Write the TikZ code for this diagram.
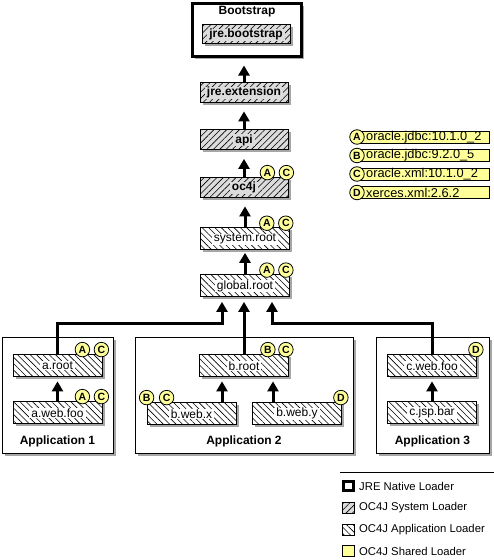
\documentclass[tikz,border=0pt]{standalone}
\usepackage{fontspec}
\setmainfont{Liberation Sans}
\usetikzlibrary{patterns.meta,arrows.meta}
\definecolor{sysgray}{HTML}{DCDCDC}
\definecolor{shy}{HTML}{FFFF99}
\begin{document}
\begin{tikzpicture}[x=1pt,y=-1pt,
  font=\fontsize{12}{14}\selectfont,
  shadowed/.style={preaction={fill=black!35,draw=none,transform canvas={xshift=2.5pt,yshift=-2.5pt}}},
  sysbox/.style={shadowed,draw,line width=0.8pt,minimum width=88pt,minimum height=20pt,inner sep=0pt,
    preaction={fill=sysgray},pattern={Lines[angle=45,distance=4.5pt,line width=0.6pt]}},
  appbox/.style={shadowed,draw,line width=0.8pt,minimum width=89pt,minimum height=22pt,inner sep=0pt,
    preaction={fill=white},pattern={Lines[angle=-45,distance=4.5pt,line width=0.6pt]}},
  sysl/.style={fill=sysgray,inner xsep=2pt,inner ysep=0.5pt,yshift=-0.8pt,font=\fontsize{12}{14}\selectfont\bfseries},
  appl/.style={fill=white,inner xsep=2pt,inner ysep=0.5pt,yshift=-0.8pt},
  group/.style={shadowed,draw,fill=white,line width=1pt,inner sep=0pt},
  title/.style={font=\fontsize{12}{14}\selectfont\bfseries,inner sep=1pt},
  badge/.style={circle,draw,fill=shy,line width=0.8pt,inner sep=0pt,minimum size=14.5pt,
    font=\fontsize{10.5}{11}\selectfont\bfseries},
  conn/.style={line width=3pt,-{Triangle[width=11pt,length=10pt]}},
  shbox/.style={draw,fill=shy,line width=0.8pt,minimum width=132pt,minimum height=12pt,inner sep=0pt,anchor=west},
  lgsq/.style={minimum width=12pt,minimum height=11pt,inner sep=0pt},
  shtxt/.style={anchor=west,inner sep=0pt,font=\fontsize{12.8}{14}\selectfont},
  kytxt/.style={anchor=west,inner sep=0pt,font=\fontsize{11.3}{14}\selectfont}
]
\useasboundingbox (0,0) rectangle (494,560);

% Bootstrap group
\node[group,line width=3pt,minimum width=109pt,minimum height=53pt] (boot) at (247,29.5) {};
\node[title] (boot-t) at (247,12) {Bootstrap};
\node[sysbox,minimum height=19pt] (jreb) at (246,34) {};
\node[sysl] (jreb-l) at (jreb) {jre.bootstrap};

% system loaders
\node[sysbox] (ext) at (244,92) {};
\node[sysl] (ext-l) at (ext) {jre.extension};
\node[sysbox] (api) at (244,139.5) {};
\node[sysl] (api-l) at (api) {api};
\node[sysbox] (oc4j) at (244,187) {};
\node[sysl] (oc4j-l) at (oc4j) {oc4j};

% app loaders (global)
\node[appbox] (sysr) at (245,238.5) {};
\node[appl] (sysr-l) at (sysr) {system.root};
\node[appbox] (groot) at (245,285.5) {};
\node[appl] (groot-l) at (groot) {global.root};

% application groups
\node[group,minimum width=111pt,minimum height=116pt] (app1) at (57.5,395) {};
\node[group,minimum width=218pt,minimum height=116pt] (app2) at (244,395) {};
\node[group,minimum width=113pt,minimum height=116pt] (app3) at (432.5,395) {};
\node[title] (app1-t) at (57.5,441) {Application 1};
\node[title] (app2-t) at (244,441) {Application 2};
\node[title] (app3-t) at (432.5,441) {Application 3};

\node[appbox] (aroot) at (57.5,365) {};
\node[appl] (aroot-l) at (aroot) {a.root};
\node[appbox] (aweb) at (57.5,412) {};
\node[appl] (aweb-l) at (aweb) {a.web.foo};
\node[appbox] (broot) at (244,365) {};
\node[appl] (broot-l) at (broot) {b.root};
\node[appbox] (bx) at (191.5,413) {};
\node[appl] (bx-l) at (bx) {b.web.x};
\node[appbox] (by) at (297,413) {};
\node[appl] (by-l) at (by) {b.web.y};
\node[appbox] (cweb) at (432,365) {};
\node[appl] (cweb-l) at (cweb) {c.web.foo};
\node[appbox] (cjsp) at (432,412) {};
\node[appl] (cjsp-l) at (cjsp) {c.jsp.bar};

% connectors
\draw[conn,shorten >=8pt] (ext.north) -- (ext.north |- boot.south);
\draw[conn,shorten >=9pt] (api.north) -- (ext.south);
\draw[conn,shorten >=9pt] (oc4j.north) -- (api.south);
\draw[conn,shorten >=9pt] (sysr.north) -- (sysr.north |- oc4j.south);
\draw[conn,shorten >=3pt] (groot.north) -- (sysr.south);
\coordinate (bus) at (0,323);
\coordinate (gL) at ([xshift=-23pt]groot.south);
\coordinate (gR) at ([xshift=27pt]groot.south);
\draw[conn,shorten >=5pt] (aroot.north) |- (gL |- bus) -- (gL);
\draw[conn,shorten >=5pt] (broot.north) -- (broot.north |- groot.south);
\draw[conn,shorten >=5pt] (cweb.north) |- (gR |- bus) -- (gR);
\draw[conn,shorten >=5pt] (aweb.north) -- (aroot.south);
\coordinate (bxt) at ([xshift=30.5pt]bx.north);
\coordinate (byt) at ([xshift=-24pt]by.north);
\draw[conn,shorten >=5pt] (bxt) -- (bxt |- broot.south);
\draw[conn,shorten >=5pt] (byt) -- (byt |- broot.south);
\draw[conn,shorten >=5pt] (cjsp.north) -- (cweb.south);

% badges
\node[badge] (oc4j-a) at ([xshift=-21pt,yshift=4pt]oc4j.north east) {A};
\node[badge] (oc4j-c) at ([xshift=-2pt,yshift=4pt]oc4j.north east) {C};
\node[badge] (sysr-a) at ([xshift=-23pt,yshift=4pt]sysr.north east) {A};
\node[badge] (sysr-c) at ([xshift=-4pt,yshift=4pt]sysr.north east) {C};
\node[badge] (groot-a) at ([xshift=-23pt,yshift=4pt]groot.north east) {A};
\node[badge] (groot-c) at ([xshift=-4pt,yshift=4pt]groot.north east) {C};
\node[badge] (aroot-a) at ([xshift=-20pt,yshift=4pt]aroot.north east) {A};
\node[badge] (aroot-c) at ([xshift=-1pt,yshift=4pt]aroot.north east) {C};
\node[badge] (aweb-a) at ([xshift=-20pt,yshift=4pt]aweb.north east) {A};
\node[badge] (aweb-c) at ([xshift=-1pt,yshift=4pt]aweb.north east) {C};
\node[badge] (broot-b) at ([xshift=-21pt,yshift=4pt]broot.north east) {B};
\node[badge] (broot-c) at ([xshift=-3pt,yshift=4pt]broot.north east) {C};
\node[badge] (bx-b) at ([xshift=0pt,yshift=4pt]bx.north west) {B};
\node[badge] (bx-c) at ([xshift=20pt,yshift=4pt]bx.north west) {C};
\node[badge] (by-d) at ([xshift=-1pt,yshift=4pt]by.north east) {D};
\node[badge] (cweb-d) at ([xshift=-1pt,yshift=4pt]cweb.north east) {D};

% shared libraries legend
\node[shbox] (la) at (357,137) {};
\node[badge] (la-c) at (357,137) {A};
\node[shtxt] (la-t) at (366,137) {oracle.jdbc:10.1.0\_2};
\node[shbox] (lb) at (357,155.5) {};
\node[badge] (lb-c) at (357,155.5) {B};
\node[shtxt] (lb-t) at (366,155.5) {oracle.jdbc:9.2.0\_5};
\node[shbox] (lc) at (357,174) {};
\node[badge] (lc-c) at (357,174) {C};
\node[shtxt] (lc-t) at (366,174) {oracle.xml:10.1.0\_2};
\node[shbox] (ld) at (357,192.5) {};
\node[badge] (ld-c) at (357,192.5) {D};
\node[shtxt] (ld-t) at (366,192.5) {xerces.xml:2.6.2};

% loader legend
\draw[line width=0.8pt] (340,472) -- (494,472);
\node[lgsq,draw,fill=white,line width=2.2pt,minimum width=10pt,minimum height=9pt] (k1) at (348.5,486) {};
\node[kytxt] (k1-t) at (359,486) {JRE Native Loader};
\node[lgsq,draw,line width=0.8pt,preaction={fill=sysgray},pattern={Lines[angle=45,distance=4.5pt,line width=0.6pt]}] (k2) at (348.5,508) {};
\node[kytxt] (k2-t) at (359,508) {OC4J System Loader};
\node[lgsq,draw,line width=0.8pt,preaction={fill=white},pattern={Lines[angle=-45,distance=4.5pt,line width=0.6pt]}] (k3) at (348.5,530) {};
\node[kytxt] (k3-t) at (359,530) {OC4J Application Loader};
\node[lgsq,draw,fill=shy,line width=0.8pt] (k4) at (348.5,551) {};
\node[kytxt] (k4-t) at (359,551) {OC4J Shared Loader};
\end{tikzpicture}
\end{document}
